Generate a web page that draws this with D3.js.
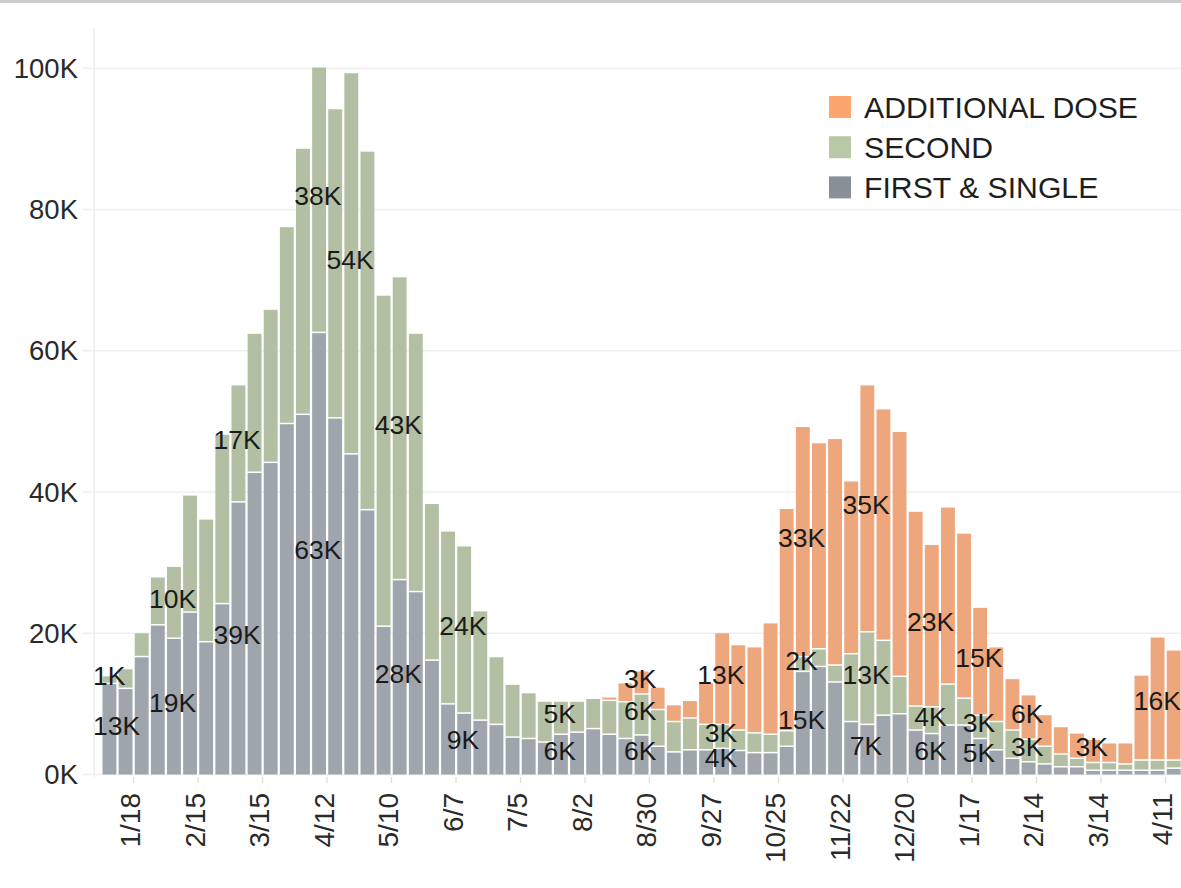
<!DOCTYPE html>
<html><head><meta charset="utf-8">
<script src="https://cdn.jsdelivr.net/npm/d3@7"></script>
<style>
body{margin:0;background:#fff;}
svg{display:block;font-family:"Liberation Sans",Arial,sans-serif;}
</style>
</head><body>
<svg id="c" width="1181" height="888"></svg>
<script>
// ---- data (values in thousands of doses, weekly) ----
const weeks = ["2021-01-04","2021-01-11","2021-01-18","2021-01-25","2021-02-01","2021-02-08","2021-02-15","2021-02-22",
"2021-03-01","2021-03-08","2021-03-15","2021-03-22","2021-03-29","2021-04-05","2021-04-12","2021-04-19","2021-04-26",
"2021-05-03","2021-05-10","2021-05-17","2021-05-24","2021-05-31","2021-06-07","2021-06-14","2021-06-21","2021-06-28",
"2021-07-05","2021-07-12","2021-07-19","2021-07-26","2021-08-02","2021-08-09","2021-08-16","2021-08-23","2021-08-30",
"2021-09-06","2021-09-13","2021-09-20","2021-09-27","2021-10-04","2021-10-11","2021-10-18","2021-10-25","2021-11-01",
"2021-11-08","2021-11-15","2021-11-22","2021-11-29","2021-12-06","2021-12-13","2021-12-20","2021-12-27","2022-01-03",
"2022-01-10","2022-01-17","2022-01-24","2022-01-31","2022-02-07","2022-02-14","2022-02-21","2022-02-28","2022-03-07",
"2022-03-14","2022-03-21","2022-03-28","2022-04-04","2022-04-11"];
const firstDose = [12.9,12.2,16.7,21.2,19.3,23.0,18.8,24.2,38.6,42.8,44.2,49.7,51.0,62.6,50.5,45.4,37.5,21.0,27.6,25.9,
16.2,10.0,8.7,7.7,7.1,5.3,5.1,4.6,5.7,6.0,6.5,5.7,5.1,5.6,4.0,3.2,3.5,3.5,3.7,3.4,3.1,3.1,4.0,14.6,15.3,13.1,7.5,7.1,
8.4,8.6,6.3,5.8,7.0,7.0,5.1,3.5,2.3,1.8,1.5,1.1,1.1,0.6,0.6,0.6,0.6,0.6,0.9];
const secondDose = [1.1,2.8,3.4,6.8,10.2,16.6,17.4,24.0,16.6,19.7,21.7,27.9,37.7,37.6,43.8,54.0,50.8,46.9,42.9,36.6,
22.2,24.5,23.7,15.5,9.6,7.5,6.5,5.8,4.7,4.4,4.3,4.8,5.2,5.8,5.2,4.3,4.5,3.6,3.4,2.9,2.8,2.6,2.2,2.1,2.5,2.4,9.6,13.1,
10.6,5.3,3.4,3.8,5.8,3.8,3.3,4.0,4.0,3.2,2.5,1.8,1.2,1.1,1.1,0.9,1.45,1.45,1.15];
const additionalDose = [0,0,0,0,0,0,0,0,0,0,0,0,0,0,0,0,0,0,0,0,0,0,0,0,0,0,0,0,0,0,0,0.5,2.7,3.3,3.2,2.4,2.5,5.9,
13.0,12.1,12.2,15.8,31.5,32.6,29.2,32.1,24.5,35.0,32.8,34.7,27.6,23.0,25.1,23.4,15.3,10.6,7.3,6.3,4.5,3.9,3.6,3.3,
2.8,3.0,12.05,17.45,15.6];
const seriesNames = ["FIRST & SINGLE","SECOND","ADDITIONAL DOSE"];
const tickWeeks = ["2021-01-18","2021-02-15","2021-03-15","2021-04-12","2021-05-10","2021-06-07","2021-07-05","2021-08-02",
"2021-08-30","2021-09-27","2021-10-25","2021-11-22","2021-12-20","2022-01-17","2022-02-14","2022-03-14","2022-04-11"];
const tickLabels = ["1/18","2/15","3/15","4/12","5/10","6/7","7/5","8/2","8/30","9/27","10/25","11/22","12/20","1/17","2/14","3/14","4/11"];
const yTicks = [0,20,40,60,80,100];
// labelled marks: [week index, series index]
const labelMarks = [[0,0],[0,1],[4,0],[4,1],[8,0],[8,1],[13,0],[13,1],[15,1],[18,0],[18,1],[22,0],[22,1],[28,0],[28,1],
[33,0],[33,1],[33,2],[38,0],[38,1],[38,2],[43,0],[43,1],[43,2],[47,0],[47,1],[47,2],[51,0],[51,1],[51,2],
[54,0],[54,1],[54,2],[57,1],[57,2],[61,2],[66,2]];

// ---- styles ----
const barColors = ["#9fa5ac","#b3bfa2","#eea77c"];
const legendColors = ["#898f96","#b9c8a7","#fca56f"];
const W = 1181, H = 888;

const svg = d3.select("#c");
const parse = d3.utcParse("%Y-%m-%d");
const series = [firstDose, secondDose, additionalDose];
const rows = weeks.map((w,i)=>({date:parse(w), vals:series.map(s=>s[i])}));
const endDate = d3.utcDay.offset(rows[rows.length-1].date, 7);

const x = d3.scaleUtc().domain([rows[0].date, endDate]).range([101.25, 1181.625]);
const y = d3.scaleLinear().domain([0,105.7]).range([774.5, 28]);

// top band
svg.append("rect").attr("x",0).attr("y",0).attr("width",W).attr("height",3).attr("fill","#cdcbcd");

// gridlines
svg.append("g").selectAll("line").data(yTicks).join("line")
  .attr("x1",83).attr("x2",W).attr("y1",d=>y(d)).attr("y2",d=>y(d))
  .attr("stroke","#efefef").attr("stroke-width",1.5);
// vertical axis line
svg.append("line").attr("x1",94.3).attr("x2",94.3).attr("y1",28).attr("y2",777)
  .attr("stroke","#ededed").attr("stroke-width",1.5);

// y labels
svg.append("g").selectAll("text").data(yTicks).join("text")
  .attr("x",78).attr("y",d=>y(d)).attr("dy","0.35em").attr("text-anchor","end")
  .attr("font-size",27.5).attr("fill","#2a2a2a").text(d=>d+"K");

// bars
const segs = [];
rows.forEach((r,i)=>{
  let base = 0;
  r.vals.forEach((v,k)=>{
    if (v>0) segs.push({i, k, date:r.date, y0:base, y1:base+v, v});
    base += v;
  });
});
svg.append("g").selectAll("rect").data(segs).join("rect")
  .attr("x",d=>x(d.date)+1.25)
  .attr("width",d=>x(d3.utcDay.offset(d.date,7))-x(d.date)-2.25)
  .attr("y",d=>y(d.y1)+0.75)
  .attr("height",d=>Math.max(0.5,(d.y0===0? y(d.y0) : y(d.y0)-0.75) - (y(d.y1)+0.75)))
  .attr("fill",d=>barColors[d.k]);

// x axis ticks and labels
const tickDates = tickWeeks.map(parse);
svg.append("g").selectAll("line").data(tickDates).join("line")
  .attr("x1",d=>x(d)).attr("x2",d=>x(d)).attr("y1",777).attr("y2",783)
  .attr("stroke","#dcdcdc").attr("stroke-width",1.2);
svg.append("g").selectAll("text").data(tickDates).join("text")
  .attr("transform",d=>`translate(${x(d)-3},793) rotate(-90)`)
  .attr("dy","0.35em").attr("text-anchor","end")
  .attr("font-size",28).attr("fill","#2a2a2a")
  .text((d,i)=>tickLabels[i]);

// data labels
const segMap = new Map(segs.map(s=>[s.i+"_"+s.k, s]));
const lg = svg.append("g");
labelMarks.forEach(([i,k])=>{
  const s = segMap.get(i+"_"+k);
  if (!s) return;
  const cx = x(d3.utcDay.offset(s.date,3.5));
  const cy = y((s.y0+s.y1)/2);
  const t = lg.append("text").attr("x",cx).attr("y",cy).attr("dy","0.21em")
    .attr("text-anchor","middle").attr("font-size",26.5).attr("fill","#1a1a1a")
    .text(Math.round(s.v)+"K");
  const w = t.node().getComputedTextLength();
  let nx = cx;
  if (nx - w/2 < 93) nx = 93 + w/2;
  if (nx + w/2 > W) nx = W - w/2;
  t.attr("x", nx);
});

// legend
const legendOrder = [2,1,0];
const leg = svg.append("g");
legendOrder.forEach((k,j)=>{
  const cy = 107 + j*40.2;
  leg.append("rect").attr("x",829).attr("y",cy-11).attr("width",22).attr("height",22).attr("fill",legendColors[k]);
  leg.append("text").attr("x",864).attr("y",cy).attr("dy","0.36em").attr("font-size",30.2)
    .attr("fill","#1e1e1e").text(seriesNames[k]);
});
</script>
</body></html>
